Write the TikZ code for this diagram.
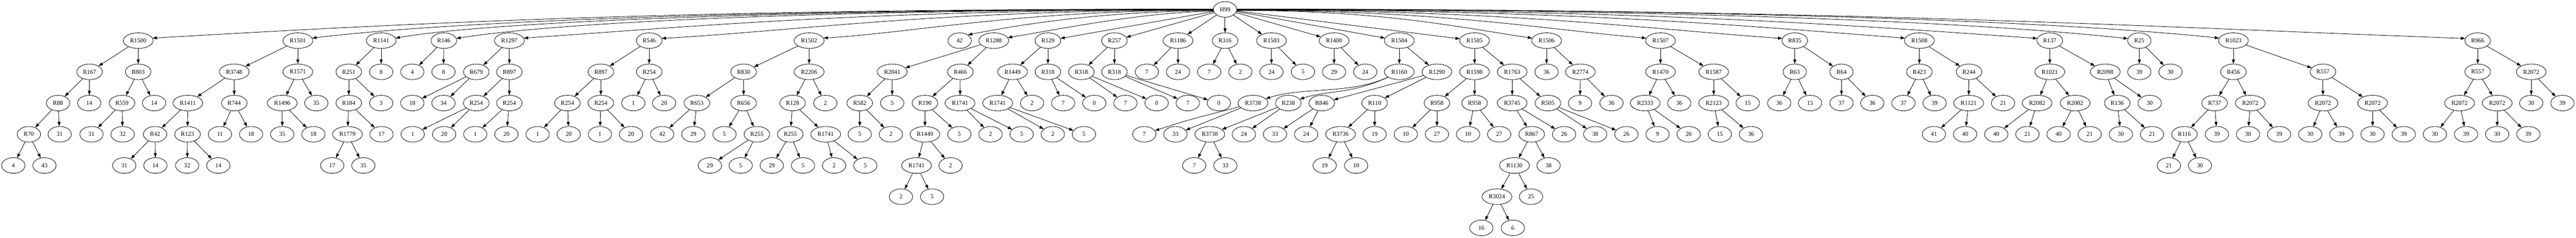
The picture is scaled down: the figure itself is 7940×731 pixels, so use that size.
\documentclass[tikz,border=0pt]{standalone}
\usepackage{fontspec}
\setmainfont{Liberation Serif}
\usetikzlibrary{shapes.geometric,arrows.meta}
\tikzset{
  nd/.style={ellipse, draw, line width=1.33pt, inner sep=0pt, minimum height=48pt, font=\fontsize{18.67}{20}\selectfont},
  nvA/.style={nd, minimum width=72pt},
  nvB/.style={nd, minimum width=79pt},
  nvC/.style={nd, minimum width=92pt},
  edg/.style={line width=1.33pt, -{Triangle[length=13.3pt,width=9.3pt]}}
}
\begin{document}
\begin{tikzpicture}[x=1pt,y=-1pt]
\useasboundingbox (0,0) rectangle (7940,731);
% level 0
\node[nvA] (r) at (3776,29) {H99};
% level 1
\foreach \id/\xx/\st/\tx in {
a1/426/nvC/R1500, a2/918/nvC/R1501, a3/1175/nvC/R1141, a4/1368/nvB/R146, a5/1570/nvC/R1297,
a6/2001/nvB/R546, a7/2494/nvC/R1502, a8/2958/nvA/42, a9/3063/nvC/R1288, a10/3230/nvB/R129,
a11/3435/nvB/R257, a12/3631/nvC/R1186, a13/3776/nvB/R316, a14/3919/nvC/R1503, a15/4112/nvC/R1400,
a16/4313/nvC/R1504, a17/4545/nvC/R1505, a18/4767/nvC/R1506, a19/5118/nvC/R1507, a20/5532/nvB/R835,
a21/5916/nvC/R1508, a22/6318/nvB/R137, a23/6594/nvA/R25, a24/6884/nvC/R1023, a25/7637/nvB/R966}
  \node[\st] (\id) at (\xx,125) {\tx};
% level 2
\foreach \id/\xx/\st/\tx in {
b1/276/nvB/R167, b2/426/nvB/R803, b3/722/nvC/R3748, b4/918/nvC/R1571, b5/1075/nvB/R251,
b6/1175/nvA/8, b7/1271/nvA/4, b8/1367/nvA/8, b9/1468/nvB/R679, b10/1570/nvB/R897,
b11/1852/nvB/R897, b12/2001/nvB/R254, b13/2292/nvB/R830, b14/2494/nvC/R2206, b15/2750/nvC/R2041,
b16/2960/nvB/R466, b17/3121/nvC/R1449, b18/3230/nvB/R318, b19/3333/nvB/R318, b20/3435/nvB/R318,
b21/3535/nvA/7, b22/3631/nvA/24, b23/3727/nvA/7, b24/3823/nvA/2, b25/3919/nvA/24,
b26/4016/nvA/5, b27/4112/nvA/29, b28/4208/nvA/24, b29/4313/nvC/R1160, b30/4429/nvC/R1290,
b31/4545/nvC/R1598, b32/4661/nvC/R1763, b33/4767/nvA/36, b34/4871/nvC/R2774, b35/5118/nvC/R1470,
b36/5282/nvC/R1587, b37/5532/nvA/R63, b38/5676/nvA/R64, b39/5916/nvB/R423, b40/6069/nvB/R244,
b41/6318/nvC/R1021, b42/6489/nvC/R2098, b43/6594/nvA/39, b44/6690/nvA/30, b45/6884/nvB/R456,
b46/7160/nvB/R557, b47/7637/nvB/R557, b48/7802/nvC/R2072}
  \node[\st] (\id) at (\xx,221) {\tx};
% level 3
\foreach \id/\xx/\st/\tx in {
c1/179/nvA/R88, c2/275/nvA/14, c3/376/nvB/R559, c4/475/nvA/14, c5/579/nvC/R1411,
c6/722/nvB/R744, c7/870/nvC/R1496, c8/975/nvA/35, c9/1075/nvB/R184, c10/1175/nvA/3,
c11/1271/nvA/18, c12/1367/nvA/34, c13/1468/nvB/R254, c14/1570/nvB/R254, c15/1749/nvB/R254,
c16/1852/nvB/R254, c17/1952/nvA/1, c18/2047/nvA/20, c19/2148/nvB/R653, c20/2292/nvB/R656,
c21/2443/nvB/R128, c22/2544/nvA/2, c23/2650/nvB/R582, c24/2750/nvA/5, c25/2851/nvB/R190,
c26/2959/nvC/R1741, c27/3075/nvC/R1741, c28/3181/nvA/2, c29/3277/nvA/7, c30/3373/nvA/0,
c31/3469/nvA/7, c32/3565/nvA/0, c33/3661/nvA/7, c34/3757/nvA/0, c35/3862/nvC/R3738,
c36/3971/nvB/R238, c37/4074/nvB/R846, c38/4237/nvB/R110, c39/4429/nvB/R958, c40/4545/nvB/R958,
c41/4661/nvC/R3745, c42/4771/nvB/R505, c43/4870/nvA/9, c44/4967/nvA/36, c45/5071/nvC/R2333,
c46/5176/nvA/36, c47/5282/nvC/R2123, c48/5387/nvA/15, c49/5484/nvA/36, c50/5579/nvA/15,
c51/5676/nvA/37, c52/5771/nvA/36, c53/5867/nvA/37, c54/5963/nvA/39, c55/6068/nvC/R1121,
c56/6174/nvA/21, c57/6279/nvC/R2082, c58/6396/nvC/R2082, c59/6526/nvB/R136, c60/6626/nvA/30,
c61/6826/nvB/R737, c62/6936/nvC/R2072, c63/7160/nvC/R2072, c64/7313/nvC/R2072, c65/7581/nvC/R2072,
c66/7697/nvC/R2072, c67/7802/nvA/30, c68/7898/nvA/39}
  \node[\st] (\id) at (\xx,317) {\tx};
% level 4
\foreach \id/\xx/\st/\tx in {
d1/89/nvA/R70, d2/184/nvA/31, d3/282/nvA/31, d4/378/nvA/32, d5/478/nvA/R42,
d6/578/nvB/R123, d7/678/nvA/11, d8/774/nvA/18, d9/870/nvA/35, d10/966/nvA/18,
d11/1071/nvC/R1779, d12/1176/nvA/17, d13/1272/nvA/1, d14/1369/nvA/20, d15/1465/nvA/1,
d16/1561/nvA/20, d17/1657/nvA/1, d18/1753/nvA/20, d19/1849/nvA/1, d20/1945/nvA/20,
d21/2041/nvA/42, d22/2137/nvA/29, d23/2233/nvA/5, d24/2333/nvB/R255, d25/2436/nvB/R255,
d26/2545/nvC/R1741, d27/2650/nvA/5, d28/2746/nvA/2, d29/2851/nvC/R1449, d30/2957/nvA/5,
d31/3053/nvA/2, d32/3149/nvA/5, d33/3245/nvA/2, d34/3341/nvA/5, d35/3527/nvA/7,
d36/3623/nvA/33, d37/3729/nvC/R3738, d38/3834/nvA/24, d39/3930/nvA/33, d40/4026/nvA/24,
d41/4132/nvC/R3736, d42/4237/nvA/19, d43/4333/nvA/10, d44/4429/nvA/27, d45/4525/nvA/10,
d46/4621/nvA/27, d47/4721/nvB/R867, d48/4821/nvA/26, d49/4917/nvA/38, d50/5013/nvA/26,
d51/5109/nvA/9, d52/5205/nvA/26, d53/5301/nvA/15, d54/5397/nvA/36, d55/5961/nvA/41,
d56/6057/nvA/40, d57/6153/nvA/40, d58/6249/nvA/21, d59/6345/nvA/40, d60/6441/nvA/21,
d61/6537/nvA/30, d62/6633/nvA/21, d63/6733/nvB/R116, d64/6833/nvA/39, d65/6929/nvA/30,
d66/7025/nvA/39, d67/7121/nvA/30, d68/7217/nvA/39, d69/7313/nvA/30, d70/7409/nvA/39,
d71/7505/nvA/30, d72/7601/nvA/39, d73/7697/nvA/30, d74/7793/nvA/39}
  \node[\st] (\id) at (\xx,413) {\tx};
% level 5
\foreach \id/\xx/\st/\tx in {
e1/41/nvA/4, e2/137/nvA/43, e3/383/nvA/31, e4/479/nvA/14, e5/577/nvA/32,
e6/673/nvA/14, e7/1024/nvA/17, e8/1120/nvA/35, e9/2188/nvA/29, e10/2283/nvA/5,
e11/2379/nvA/29, e12/2475/nvA/5, e13/2571/nvA/2, e14/2667/nvA/5, e15/2825/nvC/R1741,
e16/2930/nvA/2, e17/3681/nvA/7, e18/3777/nvA/33, e19/4083/nvA/19, e20/4180/nvA/10,
e21/4668/nvC/R1130, e22/4773/nvA/38, e23/6685/nvA/21, e24/6781/nvA/30}
  \node[\st] (\id) at (\xx,509) {\tx};
% level 6
\foreach \id/\xx/\st/\tx in {
f1/2777/nvA/2, f2/2873/nvA/5, f3/4614/nvC/R3024, f4/4719/nvA/25}
  \node[\st] (\id) at (\xx,605) {\tx};
% level 7
\foreach \id/\xx/\st/\tx in {g1/4566/nvA/16, g2/4663/nvA/6}
  \node[\st] (\id) at (\xx,701) {\tx};
% root edges, long ones curved
\draw[edg] (r.178) .. controls +(-1635,0) and +(817,-47) .. (a1.10);
\draw[edg] (r.179) .. controls +(-1389,0) and +(426,-52) .. (a2.10);
\draw[edg] (r.180) .. controls +(-1260,0) and +(298,-52) .. (a3.10);
\draw[edg] (r.181) .. controls +(-1167,0) and +(329,-52) .. (a4.10);
\draw[edg] (r.182) .. controls +(-1063,0) and +(531,-36) .. (a5.10);
\draw[edg] (r.183) .. controls +(-851,0) and +(425,-24) .. (a6.10);
\draw[edg] (r.184) .. controls +(-601,0) and +(300,-19) .. (a7.10);
\draw[edg] (r.186) .. controls +(-340,2) and +(167,-33) .. (a8.35);
\draw[edg] (r.188) .. controls +(-220,4) and +(170,-28) .. (a9.12);
\draw[edg] (r.355) .. controls +(456,0) and +(-228,-33) .. (a18.170);
\draw[edg] (r.356) .. controls +(631,0) and +(-316,-27) .. (a19.170);
\draw[edg] (r.357) .. controls +(841,0) and +(-421,-29) .. (a20.170);
\draw[edg] (r.358) .. controls +(1030,0) and +(-515,-39) .. (a21.170);
\draw[edg] (r.359) .. controls +(1234,0) and +(-617,-44) .. (a22.170);
\draw[edg] (r.0) .. controls +(1374,0) and +(-482,-52) .. (a23.170);
\draw[edg] (r.1) .. controls +(1514,0) and +(-492,-52) .. (a24.170);
\draw[edg] (r.2) .. controls +(1894,0) and +(-947,-34) .. (a25.170);
% other curved edges
\draw[edg] (b29) .. controls +(-150,70) and +(150,-50) .. (c35);
\draw[edg] (b29) .. controls +(-150,70) and +(120,-40) .. (c36);
\draw[edg] (c35) .. controls +(-150,40) and +(150,-50) .. (d35);
% straight edges
\foreach \p/\c in {
r/a10,r/a11,r/a12,r/a13,r/a14,r/a15,r/a16,r/a17,
a1/b1,a1/b2,a2/b3,a2/b4,a3/b5,a3/b6,a4/b7,a4/b8,a5/b9,a5/b10,a6/b11,a6/b12,a7/b13,a7/b14,a9/b15,a9/b16,a10/b17,a10/b18,a11/b19,a11/b20,
a12/b21,a12/b22,a13/b23,a13/b24,a14/b25,a14/b26,a15/b27,a15/b28,a16/b29,a16/b30,a17/b31,a17/b32,a18/b33,a18/b34,a19/b35,a19/b36,
a20/b37,a20/b38,a21/b39,a21/b40,a22/b41,a22/b42,a23/b43,a23/b44,a24/b45,a24/b46,a25/b47,a25/b48,
b1/c1,b1/c2,b2/c3,b2/c4,b3/c5,b3/c6,b4/c7,b4/c8,b5/c9,b5/c10,b9/c11,b9/c12,b10/c13,b10/c14,b11/c15,b11/c16,b12/c17,b12/c18,
b13/c19,b13/c20,b14/c21,b14/c22,b15/c23,b15/c24,b16/c25,b16/c26,b17/c27,b17/c28,b18/c29,b18/c30,b19/c31,b19/c32,b20/c33,b20/c34,
b30/c37,b30/c38,b31/c39,b31/c40,b32/c41,b32/c42,b34/c43,b34/c44,b35/c45,b35/c46,b36/c47,b36/c48,
b37/c49,b37/c50,b38/c51,b38/c52,b39/c53,b39/c54,b40/c55,b40/c56,b41/c57,b41/c58,b42/c59,b42/c60,
b45/c61,b45/c62,b46/c63,b46/c64,b47/c65,b47/c66,b48/c67,b48/c68,
c1/d1,c1/d2,c3/d3,c3/d4,c5/d5,c5/d6,c6/d7,c6/d8,c7/d9,c7/d10,c9/d11,c9/d12,c13/d13,c13/d14,c14/d15,c14/d16,c15/d17,c15/d18,c16/d19,c16/d20,
c19/d21,c19/d22,c20/d23,c20/d24,c21/d25,c21/d26,c23/d27,c23/d28,c25/d29,c25/d30,c26/d31,c26/d32,c27/d33,c27/d34,
c35/d36,c36/d37,c36/d38,c37/d39,c37/d40,c38/d41,c38/d42,c39/d43,c39/d44,c40/d45,c40/d46,c41/d47,c41/d48,c42/d49,c42/d50,
c45/d51,c45/d52,c47/d53,c47/d54,c55/d55,c55/d56,c57/d57,c57/d58,c58/d59,c58/d60,c59/d61,c59/d62,c61/d63,c61/d64,c62/d65,c62/d66,
c63/d67,c63/d68,c64/d69,c64/d70,c65/d71,c65/d72,c66/d73,c66/d74,
d1/e1,d1/e2,d5/e3,d5/e4,d6/e5,d6/e6,d11/e7,d11/e8,d24/e9,d24/e10,d25/e11,d25/e12,d26/e13,d26/e14,d29/e15,d29/e16,
d37/e17,d37/e18,d41/e19,d41/e20,d47/e21,d47/e22,d63/e23,d63/e24,
e15/f1,e15/f2,e21/f3,e21/f4,f3/g1,f3/g2}
  \draw[edg] (\p) -- (\c);
\end{tikzpicture}
\end{document}
